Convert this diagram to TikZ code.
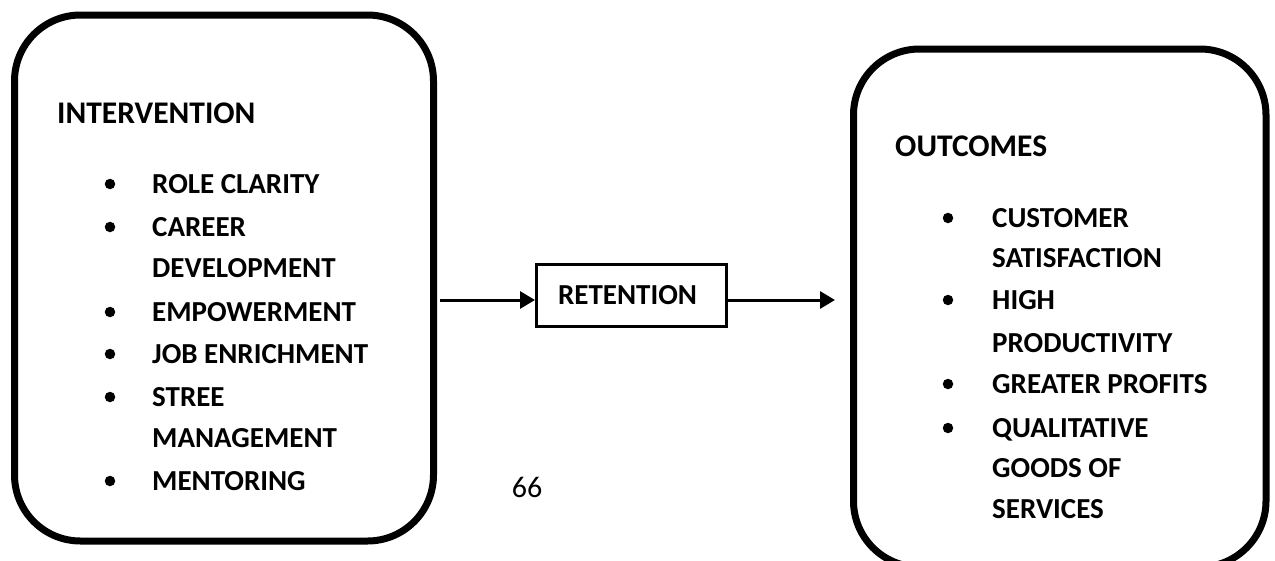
\documentclass[tikz,border=0pt]{standalone}
\usepackage{fontspec}
\setmainfont{Carlito}
\usetikzlibrary{arrows.meta}
\begin{document}
\begin{tikzpicture}[x=1pt,y=-1pt,
  panel/.style={draw, line width=7pt, rounded corners=66pt, inner sep=0pt, outer sep=0pt},
  stepbox/.style={draw, line width=3pt, minimum width=190pt, minimum height=62pt,
    inner sep=0pt, font=\bfseries\fontsize{29}{34}\selectfont},
  item/.style={anchor=base west, inner sep=0pt, font=\bfseries\fontsize{29}{34}\selectfont},
  heading/.style={anchor=base west, inner sep=0pt, font=\bfseries\fontsize{31.5}{36}\selectfont},
  dot/.style={circle, fill=black, inner sep=0pt, minimum size=10.5pt},
  arr/.style={-{Triangle[length=15pt,width=17pt]}, line width=3pt}]
\useasboundingbox (0,0) rectangle (1275,560);
\clip (0,0) rectangle (1275,560);

% the two rounded panels
\node[panel, minimum width=419pt, minimum height=526pt] (inter) at (224,278) {};
\node[panel, minimum width=412.5pt, minimum height=518pt] (outc) at (1059.75,308) {};

% left panel: interventions
\node[heading] (ihead) at (57,123) {INTERVENTION};
\node[item] (i1) at (152,193) {ROLE CLARITY};
\node[item] (i2) at (152,236) {CAREER};
\node[item] (i2b) at (152,277) {DEVELOPMENT};
\node[item] (i3) at (152,321) {EMPOWERMENT};
\node[item] (i4) at (152,363) {JOB ENRICHMENT};
\node[item] (i5) at (152,406) {STREE};
\node[item] (i5b) at (152,447) {MANAGEMENT};
\node[item] (i6) at (152,490) {MENTORING};
\node[dot] (d1) at (110,184) {};
\node[dot] (d2) at (110,227) {};
\node[dot] (d3) at (110,312) {};
\node[dot] (d4) at (110,354) {};
\node[dot] (d5) at (110,397) {};
\node[dot] (d6) at (110,481) {};

% right panel: outcomes
\node[heading] (ohead) at (895,156) {OUTCOMES};
\node[item] (o1) at (992,227) {CUSTOMER};
\node[item] (o1b) at (992,267) {SATISFACTION};
\node[item] (o2) at (992,309) {HIGH};
\node[item] (o2b) at (992,352) {PRODUCTIVITY};
\node[item] (o3) at (992,393) {GREATER PROFITS};
\node[item] (o4) at (992,437) {QUALITATIVE};
\node[item] (o4b) at (992,477) {GOODS OF};
\node[item] (o4c) at (992,518) {SERVICES};
\node[dot] (e1) at (948,218) {};
\node[dot] (e2) at (948,300) {};
\node[dot] (e3) at (948,384) {};
\node[dot] (e4) at (948,428) {};

% middle step and connectors
\node[stepbox] (ret) at (631.5,295.5) {\hspace*{-8pt}\raisebox{-2pt}{RETENTION}};
\coordinate (flow) at (440,300);
\coordinate (tipend) at (835,300);
\draw[arr] (flow) -- (flow -| ret.west);
\draw[arr] (flow -| ret.east) -- (tipend);

% page number
\node[anchor=base, inner sep=0pt, font=\fontsize{30}{34}\selectfont] (page) at (527,497) {66};
\end{tikzpicture}
\end{document}
